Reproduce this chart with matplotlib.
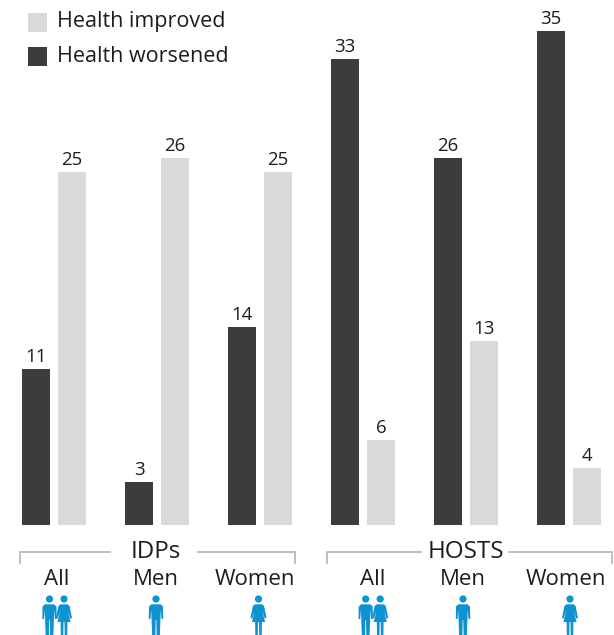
import matplotlib
matplotlib.use("Agg")
import matplotlib.pyplot as plt
from matplotlib.patches import Circle, Polygon, Rectangle

W, H = 614, 635
DARK = "#3c3c3b"
LIGHT = "#d9d9d9"
BLUE = "#0e92d0"
GREY = "#b4b4b4"
INK = "#1d1d1b"

plt.rcParams["font.family"] = ["Open Sans", "DejaVu Sans"]

# Survey values by group
groups = ["IDPs", "HOSTS"]
subgroups = ["All", "Men", "Women", "All", "Men", "Women"]
worsened = [11, 3, 14, 33, 26, 35]
improved = [25, 26, 25, 6, 13, 4]
series_labels = ["Health improved", "Health worsened"]

fig = plt.figure(figsize=(W / 100, H / 100), dpi=100, facecolor="white")

# Bars: x unit is one subgroup (103 px), y unit is one value point (14.12 px)
PX_X, PX_Y = 103.0, 14.12
BASE_PY = 524.8
ax = fig.add_axes([0, 0, 1, 1])
ax.set_xlim((0 - 36) / PX_X, (W - 36) / PX_X)
ax.set_ylim(-(H - BASE_PY) / PX_Y, BASE_PY / PX_Y)
ax.axis("off")

bar_w = 28 / PX_X
offset = 18 / PX_X
positions = list(range(len(subgroups)))
dark_bars = ax.bar(positions, worsened, width=bar_w, color=DARK, linewidth=0)
light_bars = ax.bar([p + 2 * offset for p in positions], improved, width=bar_w, color=LIGHT, linewidth=0)
for bars in (dark_bars, light_bars):
    ax.bar_label(bars, padding=2.2, fontsize=13.4, color=INK)

# Overlay in pixel coordinates for legend, brackets and pictograms
ov = fig.add_axes([0, 0, 1, 1], facecolor="none")
ov.set_xlim(0, W)
ov.set_ylim(H, 0)
ov.axis("off")

for (y, label, color) in [(22, series_labels[0], LIGHT), (56.5, series_labels[1], DARK)]:
    ov.add_patch(Rectangle((28, y - 9.5), 19, 19, color=color, lw=0))
    ov.text(57, y - 0.5, label, fontsize=15.5, color=INK, va="center", ha="left")


def bracket(x0, gap0, gap1, x1, label, cx):
    ov.plot([x0, x0, gap0], [563, 552, 552], color=GREY, lw=1.2, solid_joinstyle="miter")
    ov.plot([gap1, x1, x1], [552, 552, 563], color=GREY, lw=1.2, solid_joinstyle="miter")
    ov.text(cx, 552, label, fontsize=17.4, color=INK, ha="center", va="center")


bracket(19.5, 110, 198, 295, groups[0], 156)
bracket(327, 421, 509, 611.5, groups[1], 465.5)

sub_x = [57, 156, 255, 373, 463, 566]
for x, name in zip(sub_x, subgroups):
    ov.text(x, 579.5, name, fontsize=16.0, color=INK, ha="center", va="center")


def man(cx):
    ov.add_patch(Circle((cx, 599), 3.6, color=BLUE, lw=0))
    outline = [(-4.6, 604.3), (4.6, 604.3), (7, 606.5), (7.2, 619), (5.5, 619), (4.8, 610),
               (4.4, 620), (3.9, 635), (0.6, 635), (0.3, 620), (-0.3, 620), (-0.6, 635),
               (-3.9, 635), (-4.4, 620), (-4.8, 610), (-5.5, 619), (-7.2, 619), (-7, 606.5)]
    ov.add_patch(Polygon([(cx + a, b) for a, b in outline], closed=True, color=BLUE, lw=0))


def woman(cx):
    ov.add_patch(Circle((cx, 599), 3.6, color=BLUE, lw=0))
    outline = [(-3.6, 604.3), (3.6, 604.3), (5.6, 606), (8, 618), (6.3, 618.6), (3.6, 610.5),
               (6.6, 622), (3.4, 622), (3.2, 635), (0.7, 635), (0.5, 622), (-0.5, 622), (-0.7, 635),
               (-3.2, 635), (-3.4, 622), (-6.6, 622), (-3.6, 610.5), (-6.3, 618.6), (-8, 618), (-5.6, 606)]
    ov.add_patch(Polygon([(cx + a, b) for a, b in outline], closed=True, color=BLUE, lw=0))


for x in (49.5, 365.7):
    man(x)
    woman(x + 14.5)
for x in (156, 463):
    man(x)
for x in (258.5, 570):
    woman(x)

fig.savefig("out.png", dpi=100)
